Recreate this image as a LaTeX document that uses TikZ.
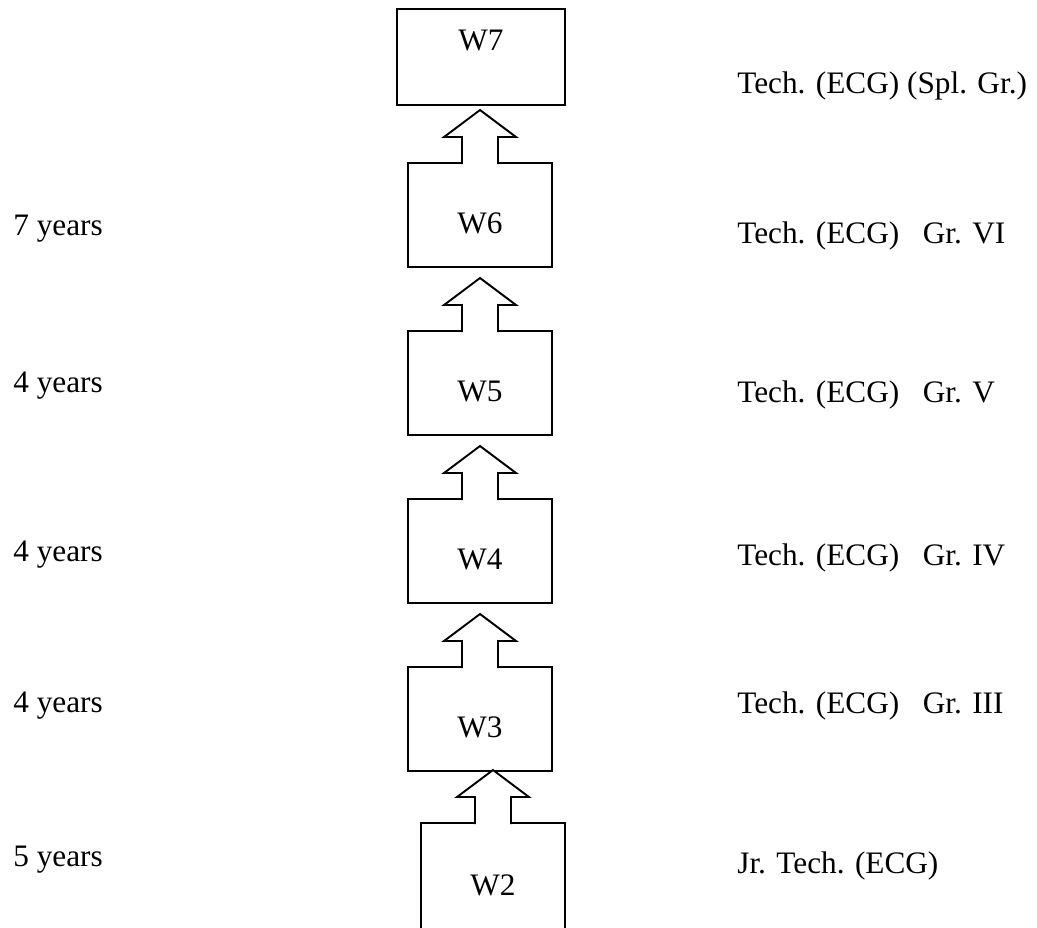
\documentclass[tikz,border=0pt]{standalone}
\usepackage{fontspec}
\setmainfont{Liberation Serif}
\usetikzlibrary{calc}

\tikzset{
  grade/.style={draw, line width=1.1pt, inner sep=0pt, outer sep=0pt,
    minimum width=2.88cm, minimum height=2.08cm, text height=0.72cm, text depth=0pt},
  side/.style={anchor=base west, inner sep=0pt},
}
% block arrow rising from the top of a box
\newcommand\promote[1]{%
  \draw[line width=1.1pt, fill=white] ($(#1.north)+(-18,1)$) -- ++(0,-27) -- ++(-18,0)
    -- ($(#1.north)+(0,-53)$) -- ($(#1.north)+(36,-26)$) -- ++(-18,0) -- ($(#1.north)+(18,1)$);}

\begin{document}
\begin{tikzpicture}[x=0.02cm, y=-0.02cm, font=\fontsize{17.8pt}{21pt}\selectfont]
\clip (0,0) rectangle (1037,927);
\node[grade, minimum width=3.36cm, minimum height=1.92cm, text height=0.44cm, text depth=0.72cm] (W7) at (481,57) {W7};
\node[grade] (W6) at (480,215) {W6};
\node[grade] (W5) at (480,383) {W5};
\node[grade] (W4) at (480,551) {W4};
\node[grade] (W3) at (480,719) {W3};
\node[grade, minimum height=2.2cm, text height=0.68cm] (W2) at (493,878) {W2};
\promote{W6}
\promote{W5}
\promote{W4}
\promote{W3}
\promote{W2}
% years of service
\node[side] (y6) at (13,235) {7 years};
\node[side] (y5) at (13,392) {4 years};
\node[side] (y4) at (13,561) {4 years};
\node[side] (y3) at (13,712) {4 years};
\node[side] (y2) at (13,866) {5 years};
% posts
\node[side] (t7) at (737,93) {Tech. (ECG) (Spl. Gr.)};
\node[side] (t6) at (737,243) {Tech. (ECG)\hspace{0.75em}Gr. VI};
\node[side] (t5) at (737,402) {Tech. (ECG)\hspace{0.75em}Gr. V};
\node[side] (t4) at (737,565) {Tech. (ECG)\hspace{0.75em}Gr. IV};
\node[side] (t3) at (737,713) {Tech. (ECG)\hspace{0.75em}Gr. III};
\node[side] (t2) at (737,873) {Jr. Tech. (ECG)};
\end{tikzpicture}
\end{document}
